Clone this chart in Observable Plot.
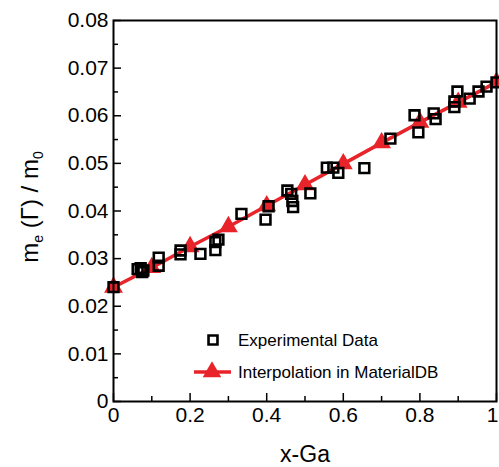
<!DOCTYPE html>
<html>
<head>
<meta charset="utf-8">
<script src="https://cdn.jsdelivr.net/npm/d3@7"></script>
<script src="https://cdn.jsdelivr.net/npm/@observablehq/plot@0.6"></script>
<style>
  html, body { margin: 0; padding: 0; background: white; }
  #chart { position: relative; width: 499px; height: 467px; }
</style>
</head>
<body>
<div id="chart"></div>
<script>
// Experimental data (x = Ga fraction, me/m0)
const xExp = [0, 0.063, 0.071, 0.078, 0.075, 0.118, 0.118, 0.175, 0.175, 0.227, 0.266, 0.266, 0.274,
  0.334, 0.397, 0.405, 0.454, 0.464, 0.467, 0.469, 0.514, 0.557, 0.574, 0.587, 0.655, 0.723,
  0.786, 0.796, 0.836, 0.841, 0.890, 0.890, 0.898, 0.930, 0.953, 0.974, 1.0];
const yExp = [0.0240, 0.0278, 0.0280, 0.0275, 0.0272, 0.0302, 0.0285, 0.0317, 0.0309, 0.0310, 0.0335, 0.0318, 0.0340,
  0.0394, 0.0382, 0.0410, 0.0443, 0.0436, 0.0421, 0.0408, 0.0437, 0.0491, 0.0491, 0.0480, 0.0490, 0.0552,
  0.0601, 0.0565, 0.0605, 0.0593, 0.0630, 0.0618, 0.0651, 0.0636, 0.0651, 0.0661, 0.0670];

// Interpolation in MaterialDB
const xInterp = [0, 0.1, 0.2, 0.3, 0.4, 0.5, 0.6, 0.7, 0.8, 0.9, 1.0];
const yInterp = [0.0240, 0.0281, 0.0325, 0.0367, 0.0411, 0.0455, 0.0499, 0.0543, 0.0586, 0.0628, 0.0670];

// Axis ticks
const xTicks = [0, 0.2, 0.4, 0.6, 0.8, 1];
const xTickLabels = ["0", "0.2", "0.4", "0.6", "0.8", "1"];
const xMinorTicks = [0.1, 0.3, 0.5, 0.7, 0.9];
const yTicks = [0, 0.01, 0.02, 0.03, 0.04, 0.05, 0.06, 0.07, 0.08];
const yTickLabels = ["0", "0.01", "0.02", "0.03", "0.04", "0.05", "0.06", "0.07", "0.08"];
const yMinorTicks = [0.005, 0.015, 0.025, 0.035, 0.045, 0.055, 0.065, 0.075];

const legendLabels = ["Experimental Data", "Interpolation in MaterialDB"];

const RED = "#e8232a";
const exp = xExp.map((x, i) => ({x, y: yExp[i]}));
const interp = xInterp.map((x, i) => ({x, y: yInterp[i]}));
const nX = xTicks.length;

const plot = Plot.plot({
  width: 499,
  height: 467,
  marginLeft: 113,
  marginRight: 3,
  marginTop: 20,
  marginBottom: 66,
  style: {fontFamily: "'Liberation Sans', Arial, sans-serif", fontSize: "21px", color: "black", background: "white", overflow: "visible"},
  x: {domain: [0, 1]},
  y: {domain: [0, 0.08]},
  marks: [
    Plot.line(interp, {x: "x", y: "y", stroke: RED, strokeWidth: 3.5}),
    Plot.dot(interp, {x: "x", y: "y", symbol: "triangle", fill: RED, r: 7}),
    Plot.dot(exp, {x: "x", y: "y", symbol: "square", stroke: "black", strokeWidth: 2.6, fill: "none", r: 5.5}),
    Plot.axisX({ticks: xTicks.slice(0, nX - 1), tickFormat: (d, i) => xTickLabels[i], tickSize: 0, tickPadding: 6, label: null, fontSize: 21}),
    Plot.axisX({ticks: xTicks.slice(nX - 1), tickFormat: () => xTickLabels[nX - 1], tickSize: 0, tickPadding: 6, dx: -4, label: null, fontSize: 21}),
    Plot.axisX({ticks: xTicks, tickFormat: () => "", tickSize: 8, dy: -8, label: null, strokeWidth: 1.5}),
    Plot.axisX({ticks: xMinorTicks, tickFormat: () => "", tickSize: 5, dy: -5, label: null, strokeWidth: 1.5}),
    Plot.axisY({ticks: yTicks, tickFormat: (d, i) => yTickLabels[i], tickSize: 0, tickPadding: 5, label: null, fontSize: 21}),
    Plot.axisY({ticks: yTicks, tickFormat: () => "", tickSize: 8, dx: 8, label: null, strokeWidth: 1.5}),
    Plot.axisY({ticks: yMinorTicks, tickFormat: () => "", tickSize: 5, dx: 5, label: null, strokeWidth: 1.5}),
    Plot.frame({stroke: "black", strokeWidth: 2})
  ]
});

document.getElementById("chart").appendChild(plot);

const svg = d3.select(plot);
const font = "'Liberation Sans', Arial, sans-serif";

// Y-axis label: m_e (Γ) / m_0
const yl = svg.append("text")
  .attr("transform", "translate(38,207) rotate(-90)")
  .attr("text-anchor", "middle")
  .attr("font-family", font)
  .attr("font-size", 24)
  .attr("fill", "black");
yl.append("tspan").text("m");
yl.append("tspan").attr("font-size", 14).attr("dy", 5).text("e");
yl.append("tspan").attr("dy", -5).text(" (Γ) / m");
yl.append("tspan").attr("font-size", 14).attr("dy", 5).text("0");

// X-axis label: x-Ga
svg.append("text")
  .attr("x", 305).attr("y", 462)
  .attr("text-anchor", "middle")
  .attr("font-family", font)
  .attr("font-size", 23)
  .attr("fill", "black")
  .text("x-Ga");

// Legend
const lg = svg.append("g").attr("font-family", font).attr("font-size", 17).attr("fill", "black").attr("text-anchor", "start");
lg.append("path").attr("d", d3.symbol(d3.symbolSquare, 80)()).attr("transform", "translate(213,340)")
  .attr("fill", "none").attr("stroke", "black").attr("stroke-width", 2.6);
lg.append("text").attr("x", 238).attr("y", 346).attr("text-anchor", "start").text(legendLabels[0]);
lg.append("line").attr("x1", 194).attr("x2", 231).attr("y1", 372).attr("y2", 372)
  .attr("stroke", RED).attr("stroke-width", 3.5);
lg.append("path").attr("d", d3.symbol(d3.symbolTriangle, 150)()).attr("transform", "translate(212,372)")
  .attr("fill", RED);
lg.append("text").attr("x", 238).attr("y", 378).attr("text-anchor", "start").text(legendLabels[1]);
</script>
</body>
</html>
